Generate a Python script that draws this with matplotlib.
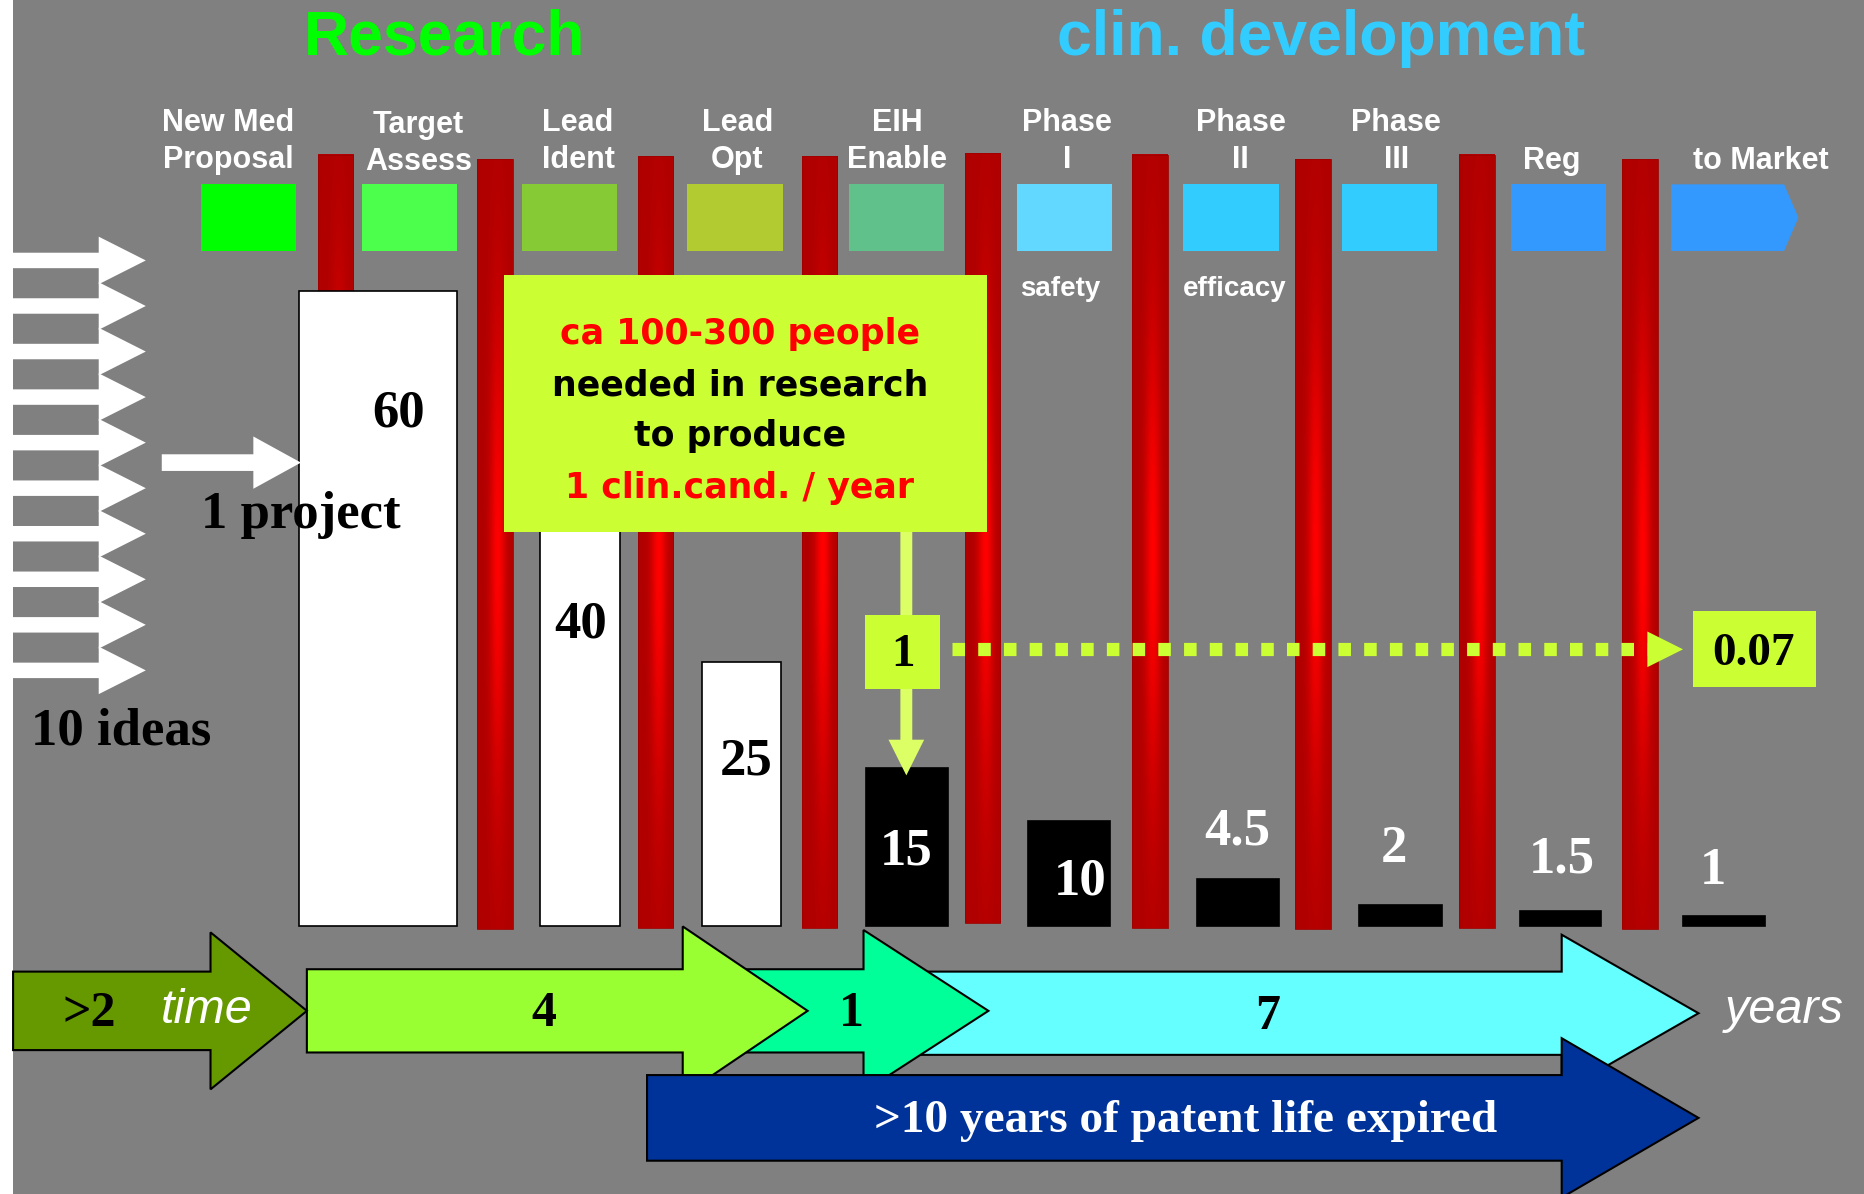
import numpy as np
import matplotlib
matplotlib.use("Agg")
import matplotlib.pyplot as plt
from matplotlib.patches import Rectangle, Polygon, FancyArrow

# ---- values ----
stages = ["New Med\nProposal", "Target\nAssess", "Lead\nIdent", "Lead\nOpt", "EIH\nEnable",
          "Phase\nI", "Phase\nII", "Phase\nIII", "Reg", "to Market"]
stage_colors = ["#00ff00", "#4dff4d", "#86cb35", "#b2cb30", "#60c28a",
                "#62d7ff", "#33ccff", "#33ccff", "#3399ff", "#3399ff"]
stage_notes = ["", "", "", "", "", "safety", "efficacy", "", "", ""]
bar_values = [60, 40, 25, 15, 10, 4.5, 2, 1.5, 1]
bar_labels = ["60", "40", "25", "15", "10", "4.5", "2", "1.5", "1"]
bar_fill = ["white", "white", "white", "black", "black", "black", "black", "black", "black"]
n_ideas = 10
durations = [">2", "4", "1", "7"]
dur_colors = ["#669900", "#99ff33", "#00ff99", "#66ffff"]
patent_text = ">10 years of patent life expired"
box_lines = ["ca 100-300 people", "needed in research", "to produce", "1 clin.cand. / year"]
box_line_colors = ["red", "black", "black", "red"]
cand_in, cand_out = "1", "0.07"

# ---- layout (slide pixel coords, y down) ----
W, H = 1568, 1004
BG = "#808080"
SERIF = "Liberation Serif"
SANS = "Liberation Sans"
label_x = [192, 352, 486, 620, 754, 897, 1043, 1174, 1305, 1480]
label_y = [119, 121, 119, 119, 119, 119, 119, 119, 135, 135]
box_x = [169, 304, 439, 578, 714, 855, 995, 1128, 1270, 1405]
note_x = [0, 0, 0, 0, 0, 891, 1038, 0, 0, 0]
col_x = [282, 416, 551, 689, 826, 967, 1104, 1242, 1379]
col_top = [130, 134, 131, 131, 129, 130, 134, 130, 134]
col_bot = [775, 781, 780, 780, 776, 780, 781, 780, 781]
bar_x = [317.5, 487.5, 623.5, 762.5, 898.5, 1040.5, 1177.5, 1312, 1449.5]
bar_w = [133, 67, 67, 69, 69, 69, 69, 68, 69]
bar_base = 779
px_per_unit = 8.9
bar_lab_xy = [(335, 348), (488, 525), (627, 640), (762, 716), (908, 741),
              (1040, 699), (1172, 714), (1313, 723), (1440, 732)]

fig = plt.figure(figsize=(18.65, 11.94), dpi=100)
fig.patch.set_facecolor(BG)
ax = fig.add_axes([0, 0, 1, 1])
ax.set_facecolor(BG)

# white strip at the left edge
ax.add_patch(Rectangle((0, 0), 11, H, color="white", lw=0, zorder=1))

# titles
ax.text(374, 32, "Research", color="#00ff00", fontsize=45, fontweight="bold",
        family=SANS, ha="center", va="center")
ax.text(1111, 32, "clin. development", color="#33ccff", fontsize=45, fontweight="bold",
        family=SANS, ha="center", va="center")

# stage labels and coloured boxes
for i, name in enumerate(stages):
    ax.text(label_x[i], label_y[i], name, color="white", fontsize=22, fontweight="bold",
            family=SANS, ha="center", va="center", linespacing=1.3)
    if name == "to Market":
        x0 = box_x[i]
        ax.add_patch(Polygon([(x0, 155), (x0 + 95, 155), (x0 + 107, 183), (x0 + 95, 211), (x0, 211)],
                             closed=True, color=stage_colors[i], lw=0, zorder=2))
    else:
        ax.add_patch(Rectangle((box_x[i], 155), 80, 56, color=stage_colors[i], lw=0, zorder=2))
    if stage_notes[i]:
        ax.text(note_x[i], 243, stage_notes[i], color="white", fontsize=20, fontweight="bold",
                family=SANS, ha="center", va="center", zorder=3)

# red gate columns with a shaded look
s = np.linspace(0, 1, 40)
t = np.linspace(0, 1, 200)
hx = np.exp(-((s - 0.58) / 0.22) ** 2)
vy = np.exp(-((t - 0.52) / 0.3) ** 2)
b = np.outer(vy, hx)
grad = np.zeros((200, 40, 3))
grad[..., 0] = 0.69 + 0.31 * b
for cx, ct, cb in zip(col_x, col_top, col_bot):
    ax.imshow(grad, extent=(cx - 15, cx + 15, cb, ct), aspect="auto",
              interpolation="bilinear", zorder=2)
    ax.add_patch(Rectangle((cx - 15, ct), 30, cb - ct, fill=False, ec="#a00000", lw=0.6, zorder=2.1))

# bars: people per stage
ax.bar(bar_x, [-v * px_per_unit for v in bar_values], width=bar_w, bottom=bar_base,
       color=bar_fill, edgecolor="black", linewidth=1.2, zorder=3)
for i, lab in enumerate(bar_labels):
    ax.text(bar_lab_xy[i][0], bar_lab_xy[i][1], lab, fontsize=38, fontweight="bold", family=SERIF,
            color="black" if bar_fill[i] == "white" else "white", ha="center", va="center", zorder=8)

# 10 ideas -> 1 project
for k in range(n_ideas):
    yc = 219 + k * 38.3
    ax.add_patch(FancyArrow(0, yc, 122.6, 0, width=13, head_width=40, head_length=39.6,
                            length_includes_head=True, color="white", lw=0, zorder=4))
ax.add_patch(FancyArrow(136, 389, 117, 0, width=14, head_width=44, head_length=40,
                        length_includes_head=True, color="white", lw=0, zorder=4))
ax.text(102, 615, f"{n_ideas} ideas", fontsize=38, fontweight="bold", family=SERIF,
        ha="center", va="center", zorder=8)
ax.text(253, 433, "1 project", fontsize=38, fontweight="bold", family=SERIF,
        ha="center", va="center", zorder=8)

# people box
ax.add_patch(Rectangle((424, 231), 406, 216, color="#ccff33", lw=0, zorder=6))
for j, (line, c) in enumerate(zip(box_lines, box_line_colors)):
    ax.text(622, 281 + j * 43, line, color=c, fontsize=25, fontweight="bold",
            family="DejaVu Sans", ha="center", va="center", zorder=7)

# candidate arrow and attrition
ax.add_patch(FancyArrow(762, 447, 0, 205, width=10, head_width=30, head_length=30,
                        length_includes_head=True, color="#ddff66", lw=0, zorder=4))
ax.add_patch(Rectangle((727, 517), 63, 62, color="#ccff33", lw=0, zorder=5))
ax.text(759, 551, cand_in, fontsize=34, fontweight="bold", family=SERIF,
        ha="center", va="center", zorder=8)
ax.plot([800, 1385], [546, 546], color="#ccff33", lw=9.5, dashes=(0.95, 1.0),
        dash_capstyle="butt", zorder=5)
ax.add_patch(Polygon([(1385, 531), (1415, 546), (1385, 561)], closed=True,
                     color="#ccff33", lw=0, zorder=5))
ax.add_patch(Rectangle((1423, 514), 104, 64, color="#ccff33", lw=0, zorder=5))
ax.text(1474, 550, cand_out, fontsize=34, fontweight="bold", family=SERIF,
        ha="center", va="center", zorder=8)


def block_arrow(x0, xs, xt, yc, sh, hh):
    return [(x0, yc - sh), (xs, yc - sh), (xs, yc - hh), (xt, yc),
            (xs, yc + hh), (xs, yc + sh), (x0, yc + sh)]


# time line arrows: (start, shaft end, tip, centre y, shaft half, head half)
segs = [(11, 177, 258, 850, 33, 66),
        (258, 574, 679, 850, 35, 71),
        (600, 726, 831, 850, 35, 68),
        (760, 1313, 1428, 852, 35, 66)]
seg_z = [3.6, 3.5, 3.4, 3.3]
for (x0, xs, xt, yc, sh, hh), c, z in zip(segs, dur_colors, seg_z):
    ax.add_patch(Polygon(block_arrow(x0, xs, xt, yc, sh, hh), closed=True, fc=c,
                         ec="black", lw=1.5, zorder=z))
dur_xy = [(75, 853), (457, 853), (716, 853), (1066, 855)]
for (x, y), d in zip(dur_xy, durations):
    ax.text(x, y, d, fontsize=36, fontweight="bold", family=SERIF,
            ha="center", va="center", zorder=8)
ax.text(174, 850, "time", color="white", fontsize=35, style="italic", family=SANS,
        ha="center", va="center", zorder=8)
ax.text(1500, 850, "years", color="white", fontsize=35, style="italic", family=SANS,
        ha="center", va="center", zorder=8)

ax.add_patch(Polygon(block_arrow(544, 1313, 1428, 940, 36, 67), closed=True, fc="#003399",
                     ec="black", lw=1.5, zorder=3.8))
ax.text(997, 943, patent_text, color="white", fontsize=34, fontweight="bold", family=SERIF,
        ha="center", va="center", zorder=8)

ax.set_xlim(0, W)
ax.set_ylim(H, 0)
ax.axis("off")
fig.savefig("out.png", dpi=100, facecolor=BG)
